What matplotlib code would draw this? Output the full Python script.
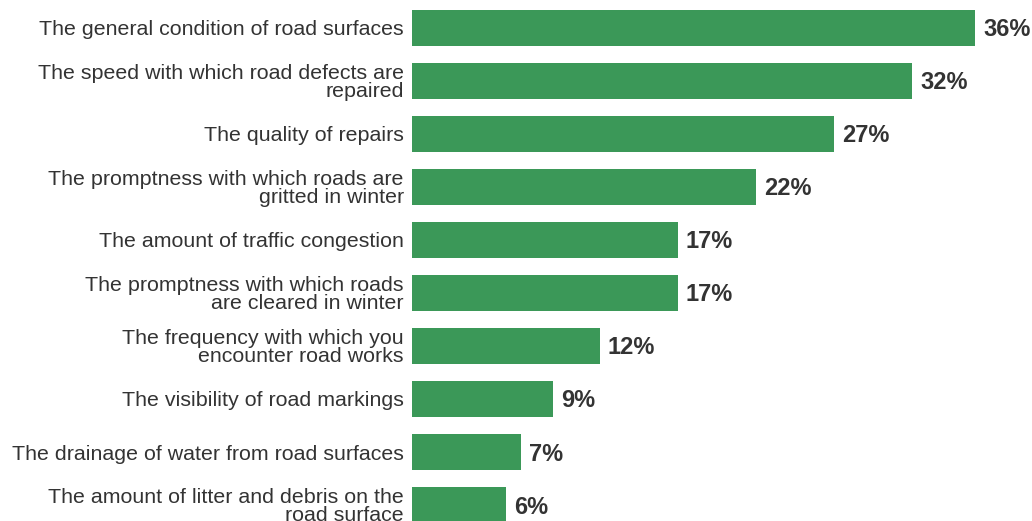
import matplotlib
matplotlib.use("Agg")
import matplotlib.pyplot as plt

categories = [
    "The general condition of road surfaces",
    "The speed with which road defects are\nrepaired",
    "The quality of repairs",
    "The promptness with which roads are\ngritted in winter",
    "The amount of traffic congestion",
    "The promptness with which roads\nare cleared in winter",
    "The frequency with which you\nencounter road works",
    "The visibility of road markings",
    "The drainage of water from road surfaces",
    "The amount of litter and debris on the\nroad surface",
]
values = [36, 32, 27, 22, 17, 17, 12, 9, 7, 6]
value_labels = ["36%", "32%", "27%", "22%", "17%", "17%", "12%", "9%", "7%", "6%"]

plt.rcParams['font.family'] = ['Liberation Sans', 'DejaVu Sans']

fig = plt.figure(figsize=(10.32, 5.21), dpi=100)
ax = fig.add_axes([412/1032, 0.0, 1 - 412/1032, 1.0])

y = list(range(len(categories)))
bars = ax.barh(y, values, height=0.68, color='#3b9858', edgecolor='none')

ax.set_xlim(0, 620/15.64)
ax.set_ylim(9.3, -0.52)

ax.set_yticks(y)
ax.set_yticklabels(categories, fontsize=15.4, color='#333333', linespacing=0.96)
ax.tick_params(axis='y', length=0, pad=6)
ax.set_xticks([])
for s in ax.spines.values():
    s.set_visible(False)

for bar, lab in zip(bars, value_labels):
    ax.annotate(lab, xy=(bar.get_width(), bar.get_y() + bar.get_height()/2),
                xytext=(8, -2), textcoords='offset pixels',
                ha='left', va='center', fontsize=17, fontweight='bold', color='#333333')

fig.savefig("out.png", dpi=100)
